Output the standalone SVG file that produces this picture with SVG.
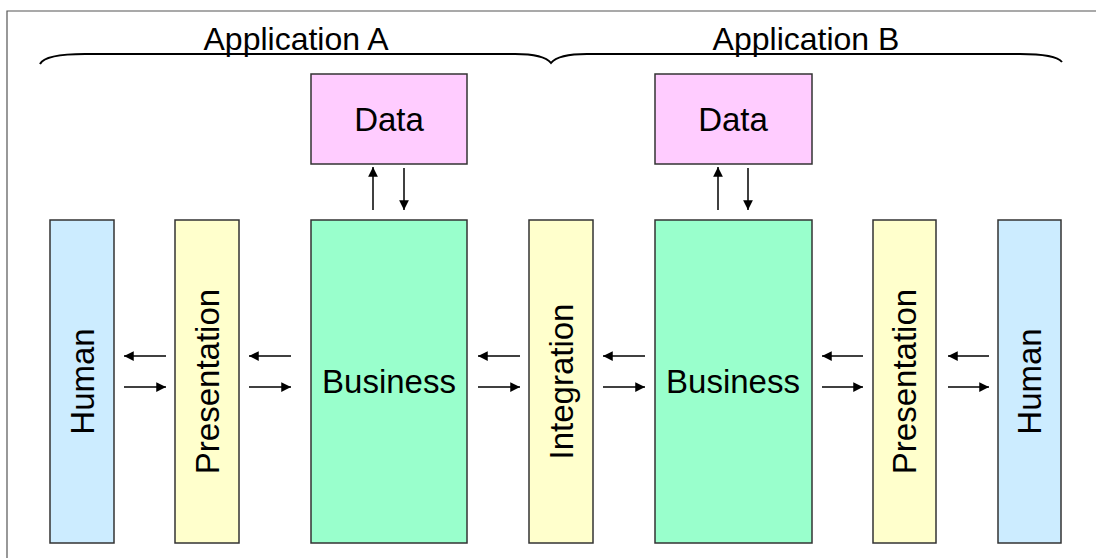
<svg xmlns="http://www.w3.org/2000/svg" width="1096" height="558" viewBox="0 0 1096 558">
<defs>
<style>
.box{stroke:#333;stroke-width:1.5}
.human{fill:#CCECFF}
.pres{fill:#FFFFCC}
.bus{fill:#99FFCC}
.data{fill:#FFCCFF}
text{font-family:"Liberation Sans",Arial,sans-serif;font-size:33px;fill:#000;text-anchor:middle}
.title{font-size:32px}
.conn line{stroke:#000;stroke-width:1.5;marker-end:url(#ah)}
.brace{fill:none;stroke:#000;stroke-width:2}
</style>
<marker id="ah" viewBox="0 0 10 10" refX="10" refY="5" markerWidth="6.5" markerHeight="6.5" markerUnits="strokeWidth" orient="auto">
<path d="M0,0 L10,5 L0,10 z" fill="#000"/>
</marker>
</defs>
<rect width="1096" height="558" fill="#fff"/>
<path d="M7,558 V11 H1096" fill="none" stroke="#555" stroke-width="1.2"/>
<g id="braces">
<path class="brace" d="M40,64 C43,58 55,54 85,54 L515,54 C538,54 547,58 551,63 C555,58 564,54 587,54 L1020,54 C1046,54 1058,57 1062,62"/>
<text class="title" x="296" y="50">Application A</text>
<text class="title" x="806" y="50">Application B</text>
</g>
<g id="humanA"><rect class="box human" x="50" y="220" width="64" height="323"/><text transform="translate(94,381.5) rotate(-90)">Human</text></g>
<g id="presA"><rect class="box pres" x="175" y="220" width="64" height="323"/><text transform="translate(219,381.5) rotate(-90)">Presentation</text></g>
<g id="busA"><rect class="box bus" x="311" y="220" width="156" height="323"/><text x="389" y="393">Business</text></g>
<g id="dataA"><rect class="box data" x="311" y="74" width="156" height="90"/><text x="389" y="131">Data</text></g>
<g id="integration"><rect class="box pres" x="529" y="220" width="64" height="323"/><text transform="translate(573,381.5) rotate(-90)">Integration</text></g>
<g id="busB"><rect class="box bus" x="655" y="220" width="157" height="323"/><text x="733" y="393">Business</text></g>
<g id="dataB"><rect class="box data" x="655" y="74" width="157" height="90"/><text x="733" y="131">Data</text></g>
<g id="presB"><rect class="box pres" x="873" y="220" width="63" height="323"/><text transform="translate(916,381.5) rotate(-90)">Presentation</text></g>
<g id="humanB"><rect class="box human" x="998" y="220" width="63" height="323"/><text transform="translate(1041,381.5) rotate(-90)">Human</text></g>
<g id="connectors" class="conn">
<line x1="166" y1="356" x2="124" y2="356"/>
<line x1="124" y1="387" x2="166" y2="387"/>
<line x1="291" y1="356" x2="249" y2="356"/>
<line x1="249" y1="387" x2="291" y2="387"/>
<line x1="520" y1="356" x2="478" y2="356"/>
<line x1="478" y1="387" x2="520" y2="387"/>
<line x1="645" y1="356" x2="603" y2="356"/>
<line x1="603" y1="387" x2="645" y2="387"/>
<line x1="863" y1="356" x2="822" y2="356"/>
<line x1="822" y1="387" x2="863" y2="387"/>
<line x1="989" y1="356" x2="948" y2="356"/>
<line x1="948" y1="387" x2="989" y2="387"/>
<line x1="373" y1="210" x2="373" y2="167"/>
<line x1="404" y1="168" x2="404" y2="210"/>
<line x1="718" y1="210" x2="718" y2="167"/>
<line x1="748" y1="168" x2="748" y2="210"/>
</g>
</svg>
